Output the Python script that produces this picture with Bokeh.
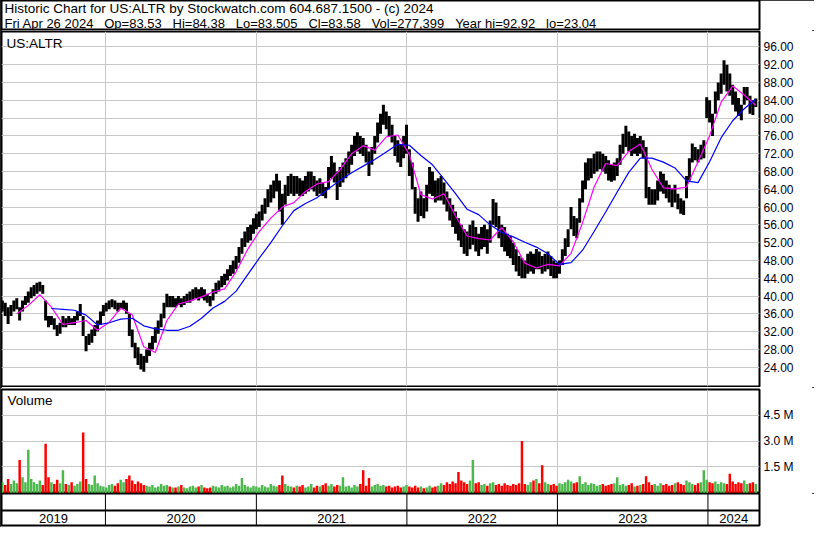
import pandas as pd
from bokeh.plotting import figure
from bokeh.models import Range1d, FixedTicker, NumeralTickFormatter, Label, Span, Grid
from bokeh.layouts import column
from bokeh.embed import file_html
from bokeh.resources import INLINE
from bokeh.core.properties import value

# ---------------- data ----------------
symbol = "US:ALTR"
header_line1 = "Historic Chart for US:ALTR by Stockwatch.com 604.687.1500 - (c) 2024"
header_items = ["Fri Apr 26 2024", "Op=83.53", "Hi=84.38", "Lo=83.505", "Cl=83.58",
                "Vol=277,399", "Year hi=92.92", "lo=23.04"]

first_week = "2019-04-26"

week_high = [
    39, 38.5, 37.5, 38, 39, 39.5, 37.5, 39, 40, 41,
    42, 42.5, 43, 43.2, 42.5, 39, 35.5, 35.5, 35, 33.5,
    34, 35.5, 35, 35.5, 35, 35.5, 36.5, 38.2, 35.5, 31,
    31.5, 32.5, 33.5, 34.5, 36.5, 38, 38.5, 39, 39.3, 39,
    38.5, 38.5, 39, 38.5, 36, 32.5, 29.5, 28.5, 27, 26.5,
    28, 29.5, 31, 33, 34.5, 36, 38.5, 40.5, 40, 40,
    39.5, 40, 39.5, 40, 40.5, 41, 41.5, 42, 41.5, 42,
    41.5, 40.5, 40, 41.5, 43, 43.5, 44.5, 45, 46, 47,
    48, 49, 51, 53, 54.5, 55.5, 56, 57.5, 58.5, 59,
    60.5, 62, 64, 65, 66, 67.5, 66, 63, 65, 67,
    67.5, 67, 67, 66.5, 66, 67, 68, 68, 67, 66,
    66.5, 65.5, 64.5, 69, 71.5, 70, 68, 69, 70, 71,
    72.5, 74, 76, 76.8, 76, 75.5, 74, 72.5, 73.5, 76,
    79, 81, 83, 81.5, 80.5, 78.5, 76, 75, 74, 76,
    78.5, 73, 70, 64.5, 62, 63.5, 62, 65, 69, 68,
    66, 66.5, 67, 65.5, 63.5, 62, 60.5, 59, 57.5, 56,
    55, 54.5, 56, 57, 55.5, 54, 55.5, 56, 55, 57,
    61.8, 61, 58, 56, 55.5, 54, 53.5, 52, 50.5, 49,
    48.5, 48, 49.5, 50, 49.5, 50.6, 50, 49, 49.5, 50,
    49, 48, 47.5, 48, 50.5, 53, 55, 60, 58, 57.5,
    62, 66, 70, 71, 71, 72, 72.5, 72.5, 72, 71.5,
    70.5, 69.5, 70, 71, 74, 76.5, 78.3, 77, 76, 76.5,
    75.5, 76, 75, 73.5, 64.5, 64, 64, 66, 68, 67.5,
    66, 65, 64, 65, 63, 62, 61.5, 67, 71, 74.3,
    73.5, 73, 74, 75, 84.7, 84, 81, 86, 88, 90,
    93, 92, 90, 87.5, 86, 84.5, 83, 87, 87, 85, 84, 84.4,
]

week_low = [
    36.5, 35.5, 33.7, 35.5, 36.5, 37, 34.5, 36.5, 38, 38.5,
    39.5, 40, 40.5, 41, 40.5, 34.5, 33, 33.5, 32.5, 31,
    31.5, 33, 33, 33.5, 33.5, 33.5, 34.5, 35.5, 31, 27.6,
    29, 29.5, 31, 32, 33.5, 35.5, 36.5, 37, 37.5, 37,
    36.5, 37, 37, 36, 31, 28.5, 26, 24.5, 23.5, 23,
    25, 26.5, 28, 29.5, 31.5, 33, 35, 37.5, 37.5, 37.5,
    37.5, 38, 37.5, 38, 38.5, 38.5, 39, 39.5, 39, 39.5,
    39, 38.5, 37.7, 39, 40.5, 41, 42, 42.5, 43.5, 44.5,
    45, 46, 47.5, 49.5, 51, 52, 52.5, 54, 55, 55.5,
    57, 58.5, 60, 61, 62, 63.5, 59, 56, 60.5, 62.5,
    63, 62.5, 63, 62.5, 62.5, 63, 63.5, 64, 63.5, 62.5,
    63, 62.5, 62, 64, 66.5, 65.5, 61.6, 64.5, 65.5, 66.5,
    67.5, 69.5, 71.5, 72.5, 72, 71.5, 70, 67, 69.5, 72,
    74.5, 76.5, 78.5, 77.5, 76, 74.5, 71.5, 70, 69, 71,
    72, 67, 64, 58.5, 56.7, 58, 57.5, 59, 63, 62.5,
    61, 61.5, 61.5, 60.6, 59, 57, 55.5, 54, 52.5, 51,
    49.5, 49, 50.5, 51.5, 50, 49, 50.5, 51, 49.5, 52,
    56, 55.5, 53, 51, 50, 49, 48.5, 47, 45.5, 44.5,
    44, 44, 45, 45.5, 45, 46, 46, 45, 45.5, 46,
    44.5, 44, 44, 45, 47, 49, 51, 55, 53.5, 53,
    56.5, 61, 64, 66, 66.5, 67.5, 68, 68.5, 68, 67.5,
    66, 65.7, 66, 67, 69.5, 72, 73.5, 72.5, 71.5, 72,
    71.5, 72, 71, 62, 60.5, 60.5, 60.5, 61.5, 63.5, 63,
    62, 61, 60, 61, 59.5, 58.5, 58.2, 62, 66, 70,
    70.5, 70, 70.7, 71, 80, 79, 76, 81, 84, 85.5,
    87.5, 86, 85, 83, 81.5, 80.5, 79.5, 83, 84, 81, 80.7, 82.5,
]

# volume in millions of shares
week_volume = [
    0.6, 0.45, 0.8, 0.5, 0.7, 0.55, 1.9, 0.9, 0.6, 2.5,
    0.8, 0.6, 0.5, 0.7, 0.45, 2.85, 0.9, 0.6, 0.5, 0.75,
    0.55, 1.3, 0.5, 0.45, 0.6, 0.4, 0.5, 0.65, 3.5, 0.8,
    0.5, 0.45, 1.0, 0.55, 0.4, 0.35, 0.3, 0.45, 0.5, 0.4,
    0.55, 0.75, 0.6, 0.8, 1.0, 0.7, 0.5, 0.65, 0.55, 0.45,
    0.4, 0.35, 0.45, 0.3, 0.35, 0.5, 0.4, 0.45, 0.35, 0.3,
    0.3, 0.35, 0.45, 0.3, 0.25, 0.35, 0.4, 0.3, 0.35, 0.45,
    0.3, 0.25, 0.3, 0.4, 0.35, 0.3, 0.45, 0.35, 0.4, 0.3,
    0.35, 0.5, 0.4, 0.85, 0.45, 0.35, 0.3, 0.4, 0.35, 0.3,
    0.45, 0.35, 0.3, 0.5, 0.4, 0.35, 0.45, 1.0, 0.5, 0.4,
    0.35, 0.3, 0.4, 0.35, 0.45, 0.3, 0.35, 0.5, 0.3, 0.4,
    0.35, 0.45, 0.55, 0.4, 0.5, 0.35, 0.45, 0.4, 0.9, 0.35,
    0.4, 0.3, 0.45, 0.35, 0.5, 1.3, 0.4, 0.85, 0.35, 0.45,
    0.5, 0.4, 0.45, 0.35, 0.4, 0.3, 0.35, 0.4, 0.3, 0.35,
    0.45, 0.35, 0.3, 0.4, 0.3, 0.35, 0.25, 0.3, 0.4, 0.3,
    0.35, 0.4, 0.55, 0.45, 0.6, 0.5, 0.65, 0.55, 1.2, 0.7,
    0.6, 0.5, 0.7, 1.9, 0.55, 0.6, 0.45, 0.5, 0.4, 0.55,
    0.6, 0.45, 0.5, 0.4, 0.55, 0.45, 0.4, 0.5, 0.45, 0.55,
    3.0, 0.5, 0.45, 0.6, 0.7, 0.8, 0.55, 1.6, 0.6, 0.5,
    0.45, 0.5, 0.4, 0.55, 0.5, 0.6, 0.75, 0.65, 0.55, 0.6,
    0.95, 0.5, 0.6, 0.45, 0.55, 0.5, 0.4, 0.45, 0.5, 0.4,
    0.45, 0.5, 0.55, 0.9, 0.45, 0.5, 0.4, 0.45, 0.55, 0.35,
    0.4, 0.45, 0.5, 0.95, 0.6, 0.45, 0.5, 0.4, 0.55, 0.45,
    0.5, 0.4, 0.45, 0.55, 0.6, 0.5, 0.45, 0.7, 0.6, 0.5,
    0.45, 0.55, 0.6, 1.3, 0.75, 0.6, 0.55, 0.65, 0.5, 0.6,
    0.55, 0.5, 1.1, 0.65, 0.5, 0.6, 0.55, 0.7, 0.5, 0.55, 0.6, 0.5,
]

# moving averages, one value every 4 weeks
fast_ma_first_week = 5
fast_ma = [
    36.0, 37.9, 40.3, 37.5, 33.6, 34.0, 34.5, 32.3, 34.1, 37.3,
    35.8, 28.6, 27.3, 34.5, 38.2, 38.9, 39.8, 40.9, 41.6, 45.5,
    50.5, 54.5, 57.5, 60.0, 61.0, 63.5, 65.2, 65.7, 68.4, 72.0,
    73.8, 72.8, 75.8, 76.2, 71.8, 62.8, 61.8, 63.0, 58.0, 53.5,
    52.9, 52.6, 55.4, 52.2, 47.4, 46.3, 47.1, 46.8, 49.6, 56.5,
    64.5, 69.8, 69.3, 72.5, 74.2, 68.5, 64.3, 64.1, 64.5, 70.2,
    76.0, 83.6, 87.2, 85.2, 82.9,
]
slow_ma_first_week = 17
slow_ma = [
    37.2, 37.0, 36.8, 35.7, 33.5, 34.0, 34.8, 35.0, 33.3, 32.6,
    32.3, 32.3, 33.2, 35.0, 37.3, 38.8, 41.1, 44.8, 48.5, 52.0,
    55.8, 59.2, 60.8, 62.1, 64.1, 66.0, 67.7, 69.2, 70.7, 72.4,
    74.1, 73.9, 71.6, 69.5, 66.3, 63.0, 59.5, 58.3, 56.0, 54.3,
    53.3, 52.1, 51.0, 49.5, 47.1, 47.5, 50.3, 54.5, 58.9, 63.4,
    67.8, 71.0, 71.0, 70.1, 68.8, 65.9, 65.5, 70.2, 75.6, 79.4,
    82.1, 84.3,
]

price_ticks = [24, 28, 32, 36, 40, 44, 48, 52, 56, 60, 64, 68, 72, 76, 80, 84, 88, 92, 96]
volume_ticks = [1500000, 3000000, 4500000]
volume_tick_labels = ["1.5 M", "3.0 M", "4.5 M"]
years = [2019, 2020, 2021, 2022, 2023, 2024]

# ---------------- derived ----------------
dates = pd.date_range(first_week, periods=len(week_high), freq="7D")
x_start = dates[0] - pd.Timedelta(days=2)
x_end = dates[-1] + pd.Timedelta(days=9)


def ms(ts):
    return ts.value // 10**6


year_starts = [pd.Timestamp(f"{y}-01-01") for y in years]
bounds = year_starts[1:]
bounds_ms = [ms(t) for t in bounds]
label_x = []
for i, ys in enumerate(year_starts):
    a = max(ys, x_start)
    b = min(year_starts[i + 1], x_end) if i + 1 < len(year_starts) else x_end
    label_x.append(a + (b - a) / 2)

mids = [(h + l) / 2 for h, l in zip(week_high, week_low)]
UP, DOWN = "#4cb84c", "#ff0000"
vol_colors = [UP] + [UP if mids[i] >= mids[i - 1] else DOWN for i in range(1, len(mids))]
vol_shares = [v * 1e6 for v in week_volume]

GAP = " \u00a0\u00a0"
header_line2 = GAP.join(header_items)

FONT = "Liberation Sans"
GRID = "#c8c8c8"
W = 814
LEFT = 1
RIGHT = 55


def make_fig(height, y_range, **kw):
    p = figure(width=W, height=height, x_range=Range1d(x_start, x_end), y_range=y_range,
               x_axis_type="datetime", toolbar_location=None, output_backend="svg",
               min_border_left=LEFT, min_border_right=RIGHT,
               background_fill_color="white", border_fill_color="white", **kw)
    return p


def style_right_axis(ax):
    ax.axis_line_color = None
    ax.major_tick_line_color = None
    ax.minor_tick_line_color = None
    ax.major_tick_out = 0
    ax.major_tick_in = 0
    ax.minor_tick_out = 0
    ax.major_label_standoff = 4
    ax.major_label_text_font = FONT
    ax.major_label_text_font_size = "12px"
    ax.major_label_text_color = "#000010"


# header
p0 = figure(width=W, height=30, x_range=(0, 1), y_range=(0, 1), toolbar_location=None,
            output_backend="svg", x_axis_location=None, y_axis_location=None,
            min_border=0)
p0.outline_line_color = "black"
p0.outline_line_width = 2
p0.grid.visible = False
p0.add_layout(Label(x=3, y=22, x_units="screen", y_units="screen", text=header_line1,
                    text_font=FONT, text_font_size="13.5px", text_baseline="middle",
                    text_color="black"))
p0.add_layout(Label(x=3, y=7, x_units="screen", y_units="screen", text=header_line2,
                    text_font=FONT, text_font_size="13px", text_baseline="middle",
                    text_color="black"))

# price panel
p1 = make_fig(357, Range1d(19.66, 99.47), x_axis_location=None, y_axis_location="right",
              min_border_top=1, min_border_bottom=1)
p1.outline_line_color = "black"
p1.outline_line_width = 2
p1.xgrid.visible = False
p1.ygrid.grid_line_color = GRID
p1.yaxis.ticker = FixedTicker(ticks=price_ticks)
p1.yaxis.formatter = NumeralTickFormatter(format="0.00")
style_right_axis(p1.yaxis[0])
p1.add_layout(Grid(dimension=0, ticker=FixedTicker(ticks=bounds_ms), grid_line_color=GRID))
p1.segment(x0=dates, y0=week_low, x1=dates, y1=week_high, line_color="black", line_width=3)
p1.line(dates[fast_ma_first_week::4], fast_ma, line_color="#ff00ff", line_width=1.2)
p1.line(dates[slow_ma_first_week::4], slow_ma, line_color="#0000ff", line_width=1.2)
p1.add_layout(Label(x=5, y=351, x_units="screen", y_units="screen", text=symbol,
                    text_font=FONT, text_font_size="13.5px", text_baseline="top",
                    text_color="black"))

# volume panel
p2 = make_fig(106, Range1d(-50000, 6000000), x_axis_location=None, y_axis_location="right",
              min_border_top=2, min_border_bottom=0)
p2.outline_line_color = "black"
p2.outline_line_width = 2
p2.xgrid.visible = False
p2.ygrid.grid_line_color = GRID
p2.yaxis.ticker = FixedTicker(ticks=volume_ticks)
p2.yaxis.major_label_overrides = {t: s for t, s in zip(volume_ticks, volume_tick_labels)}
style_right_axis(p2.yaxis[0])
p2.add_layout(Grid(dimension=0, ticker=FixedTicker(ticks=bounds_ms), grid_line_color=GRID))
p2.vbar(x=dates, top=vol_shares, bottom=0, width=6 * 86400000, fill_color=vol_colors,
        line_color=None)
p2.add_layout(Label(x=6, y=101, x_units="screen", y_units="screen", text="Volume",
                    text_font=FONT, text_font_size="13.5px", text_baseline="top",
                    text_color="black"))

# year strip
p3 = make_fig(34, Range1d(0, 32), x_axis_location=None, y_axis_location=None,
              min_border_top=0, min_border_bottom=2)
p3.grid.visible = False
p3.outline_line_color = "black"
p3.outline_line_width = 2
p3.segment(x0=bounds, x1=bounds, y0=0, y1=32, line_color="black", line_width=1)
p3.add_layout(Span(location=15, dimension="width", line_color="black", line_width=2))
p3.text(x=label_x, y=[7.5] * len(years), text=[str(y) for y in years], text_align="center",
        text_baseline="middle", text_font=value(FONT), text_font_size="13px", text_color="black")

layout = column(p0, p1, p2, p3, spacing=0,
                styles={"outline": "2px solid black", "outline-offset": "-2px"})
open("out.html", "w").write(file_html(layout, INLINE))
